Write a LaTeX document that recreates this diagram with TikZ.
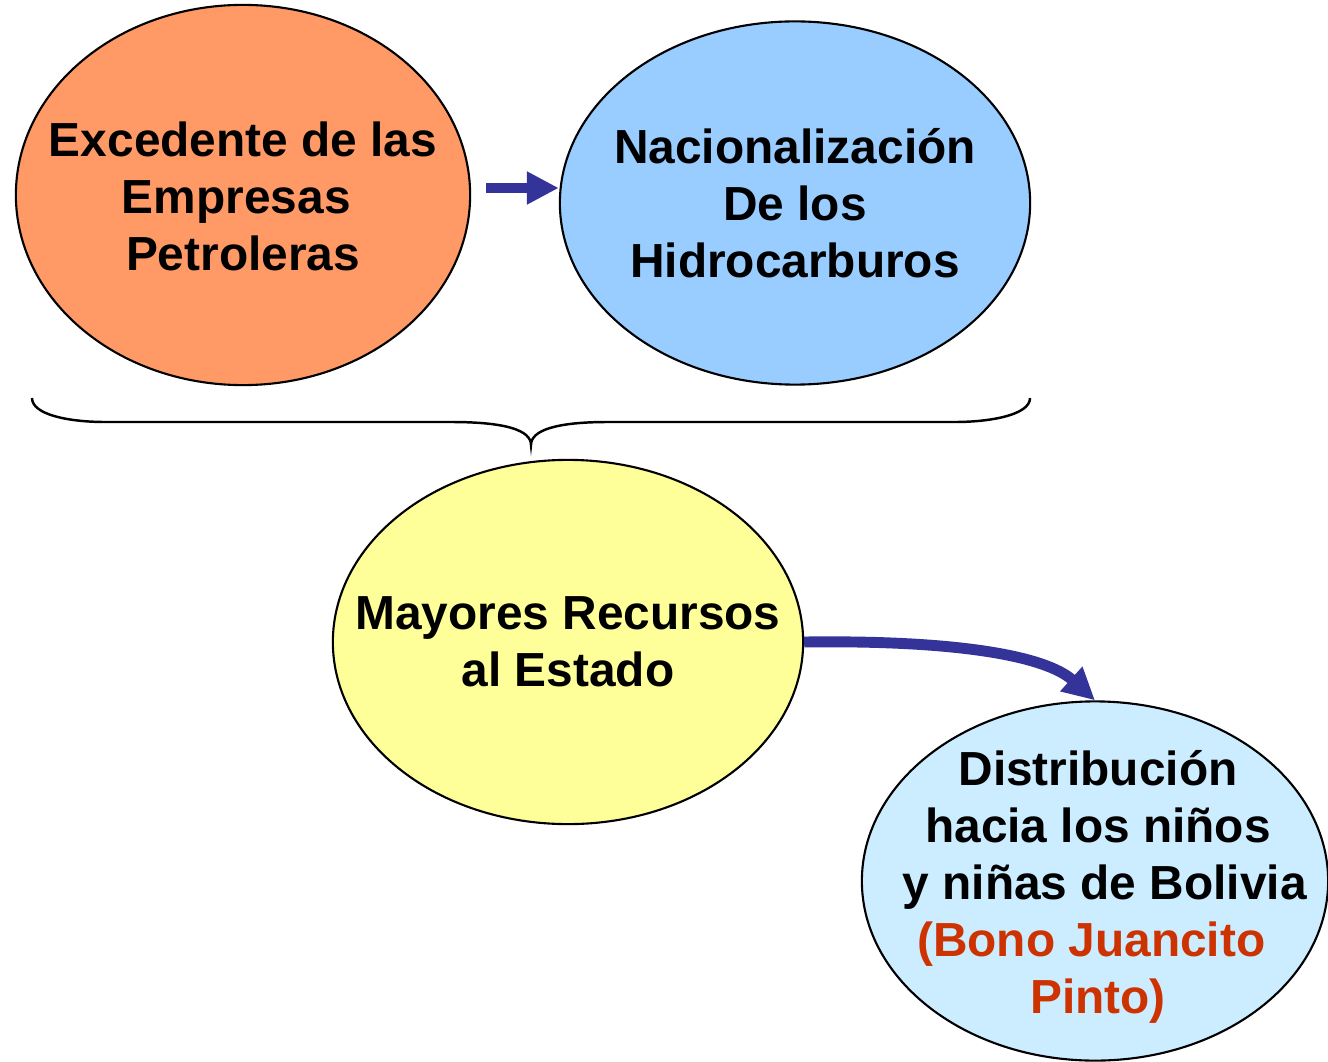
\documentclass[tikz,border=0pt]{standalone}
\usepackage{fontspec}
\setmainfont{Liberation Sans}
\usetikzlibrary{shapes.geometric,arrows.meta}

\definecolor{naranja}{HTML}{FF9966}
\definecolor{celeste}{HTML}{99CCFF}
\definecolor{amarillo}{HTML}{FFFF99}
\definecolor{celclaro}{HTML}{CCECFF}
\definecolor{azul}{HTML}{333399}
\definecolor{rojo}{HTML}{CC3300}

\newcommand{\esp}{\kern3.8pt}

\begin{document}
\begin{tikzpicture}[x=0.01cm,y=-0.01cm,
	globo/.style={ellipse,draw,line width=.6pt,inner sep=0pt},
	texto/.style={align=center,inner sep=0pt,font=\fontsize{13.6}{16.2}\selectfont\bfseries},
	flecha/.style={draw=azul,line width=3.1pt,
		-{Triangle[length=0.32cm,width=0.31cm]}}]

	\useasboundingbox (0,0) rectangle (1328,1061);

	% ellipses
	\node[globo,fill=naranja,minimum width=4.54cm,minimum height=3.8cm] (excedente) at (243,195) {};
	\node[globo,fill=celeste,minimum width=4.7cm,minimum height=3.63cm] (nacional) at (795,203) {};
	\node[globo,fill=amarillo,minimum width=4.7cm,minimum height=3.64cm] (recursos) at (568,642) {};
	\node[globo,fill=celclaro,minimum width=4.66cm,minimum height=3.59cm] (distrib) at (1095,881) {};

	% texts
	\node[texto] (excedente-t) at ([shift={(0,1)}]excedente) {Excedente de las\\Empresas\esp\\Petroleras};
	\node[texto] (nacional-t) at (nacional) {Nacionalización\\De los\\Hidrocarburos};
	\node[texto] (recursos-t) at (recursos) {Mayores Recursos\\al Estado};
	\node[texto] (distrib-t) at ([shift={(3,6)}]distrib) {Distribución\\hacia los niños\\\esp y niñas de Bolivia\\
		{\color{rojo}(Bono Juancito}\esp\\{\color{rojo}Pinto)}};

	% arrows
	\draw[flecha] ([shift={(15,-7)}]excedente.east) -- ([shift={(0,-15)}]nacional.west);
	\draw[flecha] (recursos.east) .. controls +(150,-2) and +(-50,-45) .. (distrib.north);

	% brace
	\draw[line width=.7pt] (32,398) .. controls (32,415) and (70,422) .. (105,422) -- (451,422)
		.. controls (505,422) and (531,430) .. (531,445)
		.. controls (531,430) and (557,422) .. (608,422) -- (955,422)
		.. controls (990,422) and (1030,415) .. (1030,398);

\end{tikzpicture}
\end{document}
